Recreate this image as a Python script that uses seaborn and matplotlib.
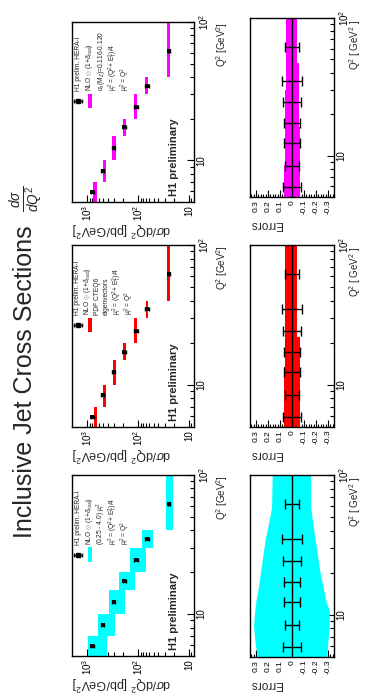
import numpy as np
import matplotlib
matplotlib.use("Agg")
import matplotlib.pyplot as plt
from matplotlib.patches import Rectangle
from matplotlib.ticker import FixedLocator, FixedFormatter, MultipleLocator, NullFormatter
import seaborn as sns

# ---------------- data ----------------
q2_edges = [5, 7, 10, 15, 20, 30, 40, 100]
q2_data = [5.9, 8.4, 12.3, 17.3, 24.4, 34.6, 62.0]
sigma_data = [798, 502, 303, 187, 111, 67, 25]
data_err_rel = [0.075, 0.06, 0.065, 0.065, 0.075, 0.08, 0.06]

# theory bands in cross-section panels (low / high edge per bin)
cyan_lo = [416, 286, 182, 116, 70, 52, 21]
cyan_hi = [982, 608, 375, 238, 145, 85, 28.8]
red_lo = [637, 429, 273, 176, 104, 63.4, 23.7]
red_hi = [738, 498, 308, 202, 121, 71.3, 27.5]
mag_lo = [653, 429, 277, 176, 104, 63.4, 23.7]
mag_hi = [762, 498, 332, 202, 121, 73.5, 27.5]

# relative theory uncertainty bands (error panels)
cyan_band_q2 = [5, 6.6, 8.4, 10.8, 12.7, 15.8, 20.9, 27.7, 36, 47.6, 59, 100]
cyan_band_up = [0.29, 0.31, 0.32, 0.31, 0.30, 0.28, 0.26, 0.24, 0.22, 0.19, 0.17, 0.165]
cyan_band_dn = [-0.29, -0.30, -0.31, -0.31, -0.28, -0.26, -0.23, -0.21, -0.19, -0.17, -0.155, -0.155]
red_band_q2 = [5, 13.5, 22, 100]
red_band_up = [0.068, 0.06, 0.06, 0.06]
red_band_dn = [-0.065, -0.065, -0.045, -0.045]
mag_band_q2 = [5, 8.5, 16, 30, 47, 100]
mag_band_up = [0.066, 0.06, 0.06, 0.054, 0.046, 0.046]
mag_band_dn = [-0.065, -0.065, -0.056, -0.056, -0.042, -0.042]

sigma_ticks = [10, 100, 1000]
sigma_ticklabels = ["10", "$10^2$", "$10^3$"]
q2_ticks = [10, 100]
q2_ticklabels = ["10", "$10^2$"]
err_ticks = [0.3, 0.2, 0.1, 0.0, -0.1, -0.2, -0.3]
err_ticklabels = ["0.3", "0.2", "0.1", "0", "-0.1", "-0.2", "-0.3"]

title_text = "Inclusive Jet Cross Sections"
title_formula = r"$\frac{d\sigma}{dQ^2}$"
common_legend = ["H1 prelim. HERA-I", r"NLO $\otimes$ (1+$\delta_{\rm had}$)"]
mu_lines = [r"$\mu_r^2$ = (Q$^2$+ E$_T^2$)/4", r"$\mu_f^2$ = Q$^2$"]
cyan_legend = common_legend + [r"(0.25 - 4.0) $\mu_r^2$"] + mu_lines
red_legend = common_legend + ["PDF CTEQ6", "eigenvectors"] + mu_lines
mag_legend = common_legend + [r"$\alpha_s$(M$_Z$)=0.116-0.120"] + mu_lines

# ---------------- style ----------------
sns.set_theme(style="white")
plt.rcParams["font.family"] = ["Liberation Sans", "DejaVu Sans"]
plt.rcParams["mathtext.fontset"] = "custom"
plt.rcParams["mathtext.rm"] = "Liberation Sans"
plt.rcParams["mathtext.it"] = "Liberation Sans:italic"
plt.rcParams["mathtext.bf"] = "Liberation Sans:bold"
plt.rcParams["axes.edgecolor"] = "black"
plt.rcParams["axes.linewidth"] = 1.0
plt.rcParams["xtick.color"] = "black"
plt.rcParams["ytick.color"] = "black"

W, H = 372, 700
fig = plt.figure(figsize=(W / 100, H / 100), dpi=100)
fig.patch.set_facecolor("white")


def px_axes(x0, y0, x1, y1):
    return fig.add_axes([x0 / W, 1 - y1 / H, (x1 - x0) / W, (y1 - y0) / H])


def style_q2_axis(ax):
    ax.set_yscale("log")
    ax.set_ylim(5, 100)
    ax.yaxis.tick_right()
    ax.yaxis.set_major_locator(FixedLocator(q2_ticks))
    ax.yaxis.set_major_formatter(FixedFormatter(q2_ticklabels))
    ax.yaxis.set_minor_locator(FixedLocator([6, 7, 8, 9, 20, 30, 40, 50, 60, 70, 80, 90]))
    ax.yaxis.set_minor_formatter(NullFormatter())
    ax.tick_params(axis="y", which="both", direction="in", right=True, left=False,
                   labelright=True, labelleft=False, labelrotation=90, labelsize=7, pad=2)
    ax.tick_params(axis="y", which="major", length=5, width=0.8)
    ax.tick_params(axis="y", which="minor", length=3, width=0.8)
    for lab in ax.get_yticklabels():
        lab.set_va("center")
        lab.set_ha("left")


def cross_panel(box, lo, hi, color, legend_lines, legend_x):
    ax = px_axes(*box)
    ax.set_xscale("log")
    ax.set_xlim(2000, 8)
    # theory boxes
    lo = np.array(lo)
    hi = np.array(hi)
    edges = np.array(q2_edges)
    ax.barh(y=edges[:-1], width=hi - lo, left=lo, height=np.diff(edges),
            align="edge", color=color, linewidth=0, zorder=2)
    # data
    sd = np.array(sigma_data)
    ax.errorbar(sd, q2_data, xerr=sd * np.array(data_err_rel), fmt="none",
                ecolor="black", elinewidth=1.0, capsize=1.5, capthick=1.0, zorder=4)
    sns.scatterplot(x=sd, y=q2_data, ax=ax, marker="s", s=7, color="black",
                    edgecolor="black", linewidth=0, zorder=5, legend=False)
    style_q2_axis(ax)
    ax.xaxis.set_major_locator(FixedLocator(sigma_ticks))
    ax.xaxis.set_major_formatter(FixedFormatter(sigma_ticklabels))
    minors = [v * d for d in (10, 100) for v in range(2, 10)]
    ax.xaxis.set_minor_locator(FixedLocator([9] + minors))
    ax.xaxis.set_minor_formatter(NullFormatter())
    ax.tick_params(axis="x", which="both", direction="in", bottom=True, top=False,
                   labelrotation=90, labelsize=7, pad=2)
    ax.tick_params(axis="x", which="major", length=5, width=0.8)
    ax.tick_params(axis="x", which="minor", length=3, width=0.8)
    ax.set_xlabel("")
    ax.set_ylabel("")
    # axis titles
    ax.text(1.23, 1.0, r"Q$^2$ [GeV$^2$]", transform=ax.transAxes, rotation=90,
            ha="center", va="top", fontsize=7)
    ax.text(0.0, -0.15, r"d$\sigma$/dQ$^2$ [pb/GeV$^2$]", transform=ax.transAxes,
            rotation=180, ha="left", va="center", fontsize=9)
    # legend texts
    for xf, line in zip(legend_x, legend_lines):
        ax.text(xf, 0.615, line, transform=ax.transAxes, rotation=90,
                rotation_mode="anchor", ha="left", va="center", fontsize=4.8)
    # legend keys
    ax.errorbar([0.05], [0.56], xerr=[0.03], fmt="s", ms=2.2, color="black",
                elinewidth=1.0, capsize=1.5, transform=ax.transAxes, zorder=6)
    ax.add_patch(Rectangle((0.13, 0.52), 0.035, 0.08, transform=ax.transAxes,
                           color=color, linewidth=0, zorder=6))
    ax.text(0.835, 0.035, "H1 preliminary", transform=ax.transAxes, rotation=90,
            ha="center", va="bottom", fontsize=8, fontweight="bold")
    return ax


def err_panel(box, bq2, bup, bdn, color, step):
    ax = px_axes(*box)
    ax.set_xlim(0.35, -0.35)
    if step:
        ax.fill_betweenx(bq2, bup, bdn, color=color, linewidth=0, step="post", zorder=2)
    else:
        ax.fill_betweenx(bq2, bup, bdn, color=color, linewidth=0, zorder=2)
    ax.axvline(0, color="black", lw=1.0, zorder=3)
    ax.errorbar(np.zeros(len(q2_data)), q2_data, xerr=data_err_rel, fmt="none",
                ecolor="black", elinewidth=1.0, capsize=3.5, capthick=1.0, zorder=4)
    style_q2_axis(ax)
    ax.xaxis.set_major_locator(FixedLocator(err_ticks))
    ax.xaxis.set_major_formatter(FixedFormatter(err_ticklabels))
    ax.xaxis.set_minor_locator(MultipleLocator(0.02))
    ax.tick_params(axis="x", which="both", direction="in", bottom=True, top=False,
                   labelrotation=90, labelsize=6, pad=2)
    ax.tick_params(axis="x", which="major", length=5, width=0.8)
    ax.tick_params(axis="x", which="minor", length=2.5, width=0.8)
    ax.text(1.25, 0.99, r"Q$^2$ [ GeV$^2$ ]", transform=ax.transAxes, rotation=90,
            ha="center", va="top", fontsize=7)
    ax.text(0.0, -0.15, "Errors", transform=ax.transAxes, rotation=180,
            ha="left", va="center", fontsize=8.5)
    return ax


cyan = "#00ffff"
red = "#ff0000"
magenta = "#ff00ff"

five_x = [0.05, 0.147, 0.244, 0.341, 0.438]
six_x = [0.045, 0.128, 0.205, 0.28, 0.37, 0.47]

cross_panel((72, 475, 194, 656), cyan_lo, cyan_hi, cyan, cyan_legend, five_x)
cross_panel((72, 245, 194, 427), red_lo, red_hi, red, red_legend, six_x)
cross_panel((72, 22, 194, 202), mag_lo, mag_hi, magenta, mag_legend, five_x)

err_panel((250, 475, 334, 657), cyan_band_q2, cyan_band_up, cyan_band_dn, cyan, False)
err_panel((250, 245, 334, 427), red_band_q2, red_band_up, red_band_dn, red, True)
err_panel((250, 18, 334, 197), mag_band_q2, mag_band_up, mag_band_dn, magenta, True)

fig.text(25 / W, 1 - 538 / H, title_text, rotation=90, ha="center", va="bottom",
         fontsize=18)
fig.text(27 / W, 1 - 199 / H, title_formula, rotation=90, ha="center", va="center",
         fontsize=14)

fig.savefig("out.png", dpi=100, facecolor="white")
